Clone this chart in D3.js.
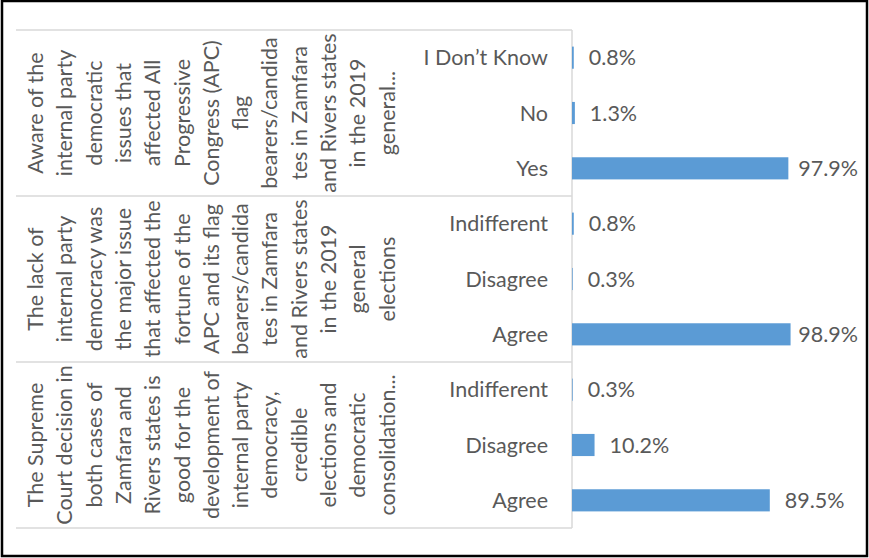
<!DOCTYPE html>
<html><head><meta charset="utf-8">
<script src="https://cdn.jsdelivr.net/npm/d3@7"></script>
<style>body{margin:0;background:#fff}svg{display:block}text{font-family:Lato,"Open Sans",sans-serif;fill:#595959}</style>
</head><body><svg id="c" width="869" height="558"></svg>
<script>
const groups = ["Aware", "Lack", "Supreme"];
const groupLines = [
  ["Aware of the","internal party","democratic","issues that","affected All","Progressive","Congress (APC)","flag","bearers/candida","tes in Zamfara","and Rivers states","in the 2019","general..."],
  ["The lack of","internal party","democracy was","the major issue","that affected the","fortune of the","APC and its flag","bearers/candida","tes in Zamfara","and Rivers states","in the 2019","general","elections"],
  ["The Supreme","Court decision in","both cases of","Zamfara and","Rivers states is","good for the","development of","internal party","democracy,","credible","elections and","democratic","consolidation..."]
];
const subCategories = [["I Don’t Know","No","Yes"],["Indifferent","Disagree","Agree"],["Indifferent","Disagree","Agree"]];
const values = [[0.8,1.3,97.9],[0.8,0.3,98.9],[0.3,10.2,89.5]];

const rows = [];
groups.forEach((g,gi)=>subCategories[gi].forEach((s,si)=>rows.push({id:g+"|"+s,group:g,label:s,value:values[gi][si]})));

const svg = d3.select("#c");
const top0 = 30, bot0 = 528, axisX = 572, labelMaxX = 858;
const y = d3.scaleBand().domain(rows.map(r=>r.id)).range([top0,bot0]).paddingInner(0.6).paddingOuter(0.3);
const gy = d3.scaleBand().domain(groups).range([top0,bot0]);
const x = d3.scaleLinear().domain([0,100]).range([axisX, axisX+221]);
const fs = 21.5;

// border
svg.append("rect").attr("x",2).attr("y",1).attr("width",865).attr("height",555)
  .attr("fill","none").attr("stroke","#000").attr("stroke-width",2.5);

// group separator lines
const bounds = groups.map(g=>gy(g)).concat([bot0]);
svg.selectAll("line.sep").data(bounds).join("line").attr("class","sep")
  .attr("x1",16).attr("x2",axisX).attr("y1",d=>d).attr("y2",d=>d)
  .attr("stroke","#d9d9d9").attr("stroke-width",1.5);
svg.append("line").attr("x1",axisX).attr("x2",axisX).attr("y1",top0).attr("y2",bot0)
  .attr("stroke","#d9d9d9").attr("stroke-width",1.5);

// bars
svg.selectAll("rect.bar").data(rows).join("rect").attr("class","bar")
  .attr("x",x(0)).attr("y",d=>y(d.id)).attr("width",d=>x(d.value)-x(0)).attr("height",y.bandwidth())
  .attr("fill","#5b9bd5");

// value labels (pushed inside the chart area near the right edge)
svg.selectAll("text.val").data(rows).join("text").attr("class","val")
  .attr("y",d=>y(d.id)+y.bandwidth()/2).attr("dy","0.35em")
  .attr("font-size",fs).text(d=>d.value.toFixed(1)+"%")
  .attr("x",function(d){ const w=this.getComputedTextLength(); return Math.min(x(d.value)+15, labelMaxX-w); });

// sub-category labels
svg.selectAll("text.sub").data(rows).join("text").attr("class","sub")
  .attr("x",548).attr("y",d=>y(d.id)+y.bandwidth()/2).attr("dy","0.35em")
  .attr("text-anchor","end").attr("font-size",fs).text(d=>d.label);

// rotated group labels
groups.forEach((g,gi)=>{
  const cy = gy(g)+gy.bandwidth()/2;
  groupLines[gi].forEach((ln,li)=>{
    const bx = 43 + li*29.3;
    svg.append("text").attr("transform",`translate(${bx},${cy}) rotate(-90)`)
      .attr("text-anchor","middle").attr("font-size",fs).text(ln);
  });
});
</script></body></html>
